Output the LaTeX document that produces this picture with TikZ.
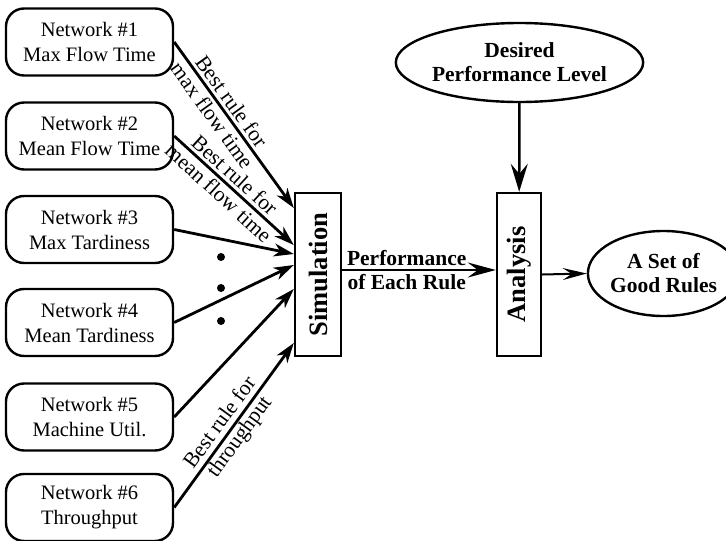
\documentclass[tikz,border=0pt]{standalone}
\usepackage{fontspec}
\usepackage{graphicx}
\setmainfont{Liberation Serif}
\usetikzlibrary{arrows.meta,shapes.geometric}
\begin{document}
\begin{tikzpicture}[x=1pt,y=-1pt,
  net/.style={draw, line width=2.4pt, rounded corners=18pt, minimum width=167pt,
    minimum height=67pt, align=center, inner sep=0pt,
    font=\fontsize{20.5}{25}\selectfont},
  vbox/.style={draw, line width=2.4pt, minimum width=46pt, minimum height=163pt,
    inner sep=0pt, font=\fontsize{26.5}{30}\selectfont\bfseries},
  ell/.style={draw, ellipse, line width=2.4pt, inner sep=0pt, align=center,
    font=\fontsize{21.5}{24}\selectfont\bfseries},
  dotnode/.style={circle, fill=black, minimum size=8pt, inner sep=0pt},
  arr/.style={-{Stealth[length=20pt,width=13pt,inset=6pt]}, line width=2.8pt},
  bigarr/.style={-{Stealth[length=28pt,width=15pt,inset=10pt]}, line width=2.8pt},
  lab/.style={sloped, align=center, inner sep=0pt, font=\fontsize{21.5}{24}\selectfont}
]
\useasboundingbox (0,0) rectangle (726,541);

\node[net] (n1) at (89.5,42)  {Network \#1\\Max Flow Time};
\node[net] (n2) at (89.5,136) {Network \#2\\Mean Flow Time};
\node[net] (n3) at (89.5,229.5) {Network \#3\\Max Tardiness};
\node[net] (n4) at (89.5,322.5) {Network \#4\\Mean Tardiness};
\node[net] (n5) at (89.5,417) {Network \#5\\Machine Util.};
\node[net] (n6) at (89.5,507.5) {Network \#6\\Throughput};

\node[vbox] (sim) at (318,274.5) {\rotatebox{90}{Simulation}};
\node[vbox, minimum width=44pt] (ana) at (519,274.5) {\rotatebox{90}{Analysis}};

\node[ell, minimum width=199pt, minimum height=79pt] (des) at (519.5,62.5)
  {\fontsize{21.5}{27}\selectfont Desired\\Performance Level};
\node[ell, minimum width=121pt, minimum height=85pt] (good) at (663.5,273.5)
  {A Set of\\Good Rules};

\node[dotnode] (d1) at (221,257) {};
\node[dotnode] (d2) at (221,288) {};
\node[dotnode] (d3) at (221,321) {};

\draw[arr] (n1.east) -- ([yshift=66.5pt]sim.west)
  node[lab, pos=0.4] {Best rule for\\max flow time};
\draw[arr] (n2.east) -- ([yshift=29.5pt]sim.west)
  node[lab, pos=0.44] {Best rule for\\mean flow time};
\draw[arr] (n3.east) -- ([yshift=20.5pt]sim.west);
\draw[arr] (n4.east) -- ([yshift=9.5pt]sim.west);
\draw[arr] (n5.east) -- ([yshift=-14.5pt]sim.west);
\draw[arr] (n6.east) -- ([yshift=-68.5pt]sim.west)
  node[lab, pos=0.47] {Best rule for\\throughput};

\draw[bigarr] ([yshift=4.5pt]sim.east) -- ([yshift=4.5pt]ana.west)
  node[pos=0.42, align=center, inner sep=0pt, font=\fontsize{21.5}{24}\selectfont\bfseries]
  {Performance\\of Each Rule};
\draw[bigarr, line width=2.5pt, -{Stealth[length=28pt,width=17pt,inset=10pt]}] (des) -- (ana);
\draw[line width=2pt, -{Stealth[length=24pt,width=12pt,inset=9pt]}] (ana.east) -- (good.west);
\end{tikzpicture}
\end{document}
